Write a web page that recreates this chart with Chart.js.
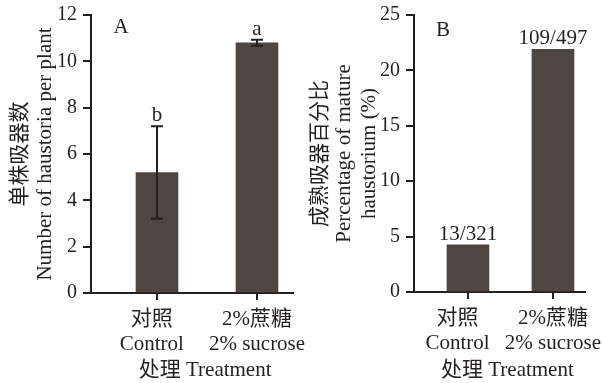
<!DOCTYPE html>
<html>
<head>
<meta charset="utf-8">
<script src="https://cdn.jsdelivr.net/npm/chart.js@4.4.0/dist/chart.umd.min.js"></script>
<style>
body { margin: 0; background: #fff; }
#wrap { position: relative; width: 603px; height: 383px; }
canvas { position: absolute; top: 0; }
#chartA { left: 0; }
#chartB { left: 300px; }
</style>
</head>
<body>
<div id="wrap">
  <canvas id="chartA" width="330" height="383"></canvas>
  <canvas id="chartB" width="303" height="383"></canvas>
</div>
<script>
const categories = [["对照", "Control"], ["2%蔗糖", "2% sucrose"]];
const haustoria = [5.2, 10.8];
const haustoriaErr = [2.0, 0.13];
const haustoriaLetters = ["b", "a"];
const matureRate = [4.25, 21.9];
const matureCounts = ["13/321", "109/497"];

const ink = '#231f20';
const barColor = '#4f4641';
const fam = "'Liberation Serif', 'Noto Sans CJK SC', serif";

// error bars + labels above bars + panel letter
function annotations(values, errors, labels, panel) {
  return {
    id: 'annotations',
    afterDatasetsDraw(chart) {
      const ctx = chart.ctx;
      const y = chart.scales.y;
      const bars = chart.getDatasetMeta(0).data;
      ctx.save();
      ctx.strokeStyle = ink;
      ctx.fillStyle = ink;
      ctx.lineWidth = 2;
      ctx.font = '21px ' + fam;
      ctx.textAlign = 'center';
      ctx.textBaseline = 'alphabetic';
      bars.forEach((bar, i) => {
        let top = y.getPixelForValue(values[i]);
        if (errors) {
          const hi = y.getPixelForValue(values[i] + errors[i]);
          const lo = y.getPixelForValue(values[i] - errors[i]);
          ctx.beginPath();
          ctx.moveTo(bar.x, hi); ctx.lineTo(bar.x, lo);
          ctx.moveTo(bar.x - 6, hi); ctx.lineTo(bar.x + 6, hi);
          ctx.moveTo(bar.x - 6, lo); ctx.lineTo(bar.x + 6, lo);
          ctx.stroke();
          top = hi;
        }
        ctx.fillText(labels[i], bar.x, top - 5);
      });
      ctx.fillText(panel.text, panel.x, panel.y);
      ctx.restore();
    }
  };
}

function makeChart(id, cfg) {
  return new Chart(document.getElementById(id), {
    type: 'bar',
    data: {
      datasets: [{
        data: cfg.values.map((v, i) => ({ x: i + 1, y: v })),
        backgroundColor: barColor,
        barThickness: 42
      }]
    },
    options: {
      responsive: false,
      animation: false,
      layout: { padding: { top: 15, right: cfg.padRight, bottom: 0, left: 0 } },
      plugins: { legend: { display: false }, tooltip: { enabled: false } },
      scales: {
        x: {
          type: 'linear',
          min: cfg.xMin,
          max: cfg.xMax,
          offset: false,
          grid: { drawOnChartArea: false, tickLength: 7, lineWidth: 2, color: ink, offset: false },
          border: { color: ink, width: 2 },
          afterBuildTicks: s => { s.ticks = categories.map((c, i) => ({ value: i + 1 })); },
          afterFit: s => { s.height = cfg.xHeight; s.paddingLeft = 0; s.paddingRight = 0; },
          ticks: {
            padding: 7,
            color: ink,
            autoSkip: false,
            maxRotation: 0,
            font: { family: fam, size: 21, lineHeight: 25 / 21 },
            callback: v => {
              const i = Math.round(v) - 1;
              const pad = ' '.repeat(cfg.labelPad[i]);
              return categories[i].map(t => t + pad);
            }
          },
          title: {
            display: true,
            text: cfg.xTitle,
            color: ink,
            font: { family: fam, size: 21, lineHeight: 25 / 21 },
            padding: { top: 0, bottom: 0 }
          }
        },
        y: {
          min: 0,
          max: cfg.yMax,
          grid: { drawOnChartArea: false, tickLength: 8, lineWidth: 2, color: ink },
          border: { color: ink, width: 2 },
          afterFit: s => { s.width = cfg.yWidth; s.paddingTop = 0; s.paddingBottom = 0; },
          ticks: { stepSize: cfg.step, padding: 6, color: ink, font: { family: fam, size: 20 } },
          title: {
            display: true,
            text: cfg.yTitle,
            color: ink,
            font: { family: fam, size: 21, lineHeight: cfg.yLine / 21 },
            padding: { top: 8, bottom: 0 }
          }
        }
      }
    },
    plugins: [annotations(cfg.values, cfg.errors, cfg.labels, cfg.panel)]
  });
}

makeChart('chartA', {
  values: haustoria,
  errors: haustoriaErr,
  labels: haustoriaLetters,
  panel: { text: 'A', x: 121, y: 33 },
  padRight: 37,
  xMin: 0.34, xMax: 2.36,
  xHeight: 90,
  yMax: 12, step: 2,
  yWidth: 91,
  yLine: 25,
  labelPad: [2, 0],
  xTitle: '     处理 Treatment',
  yTitle: ['单株吸器数', 'Number of haustoria per plant']
});

makeChart('chartB', {
  values: matureRate,
  errors: null,
  labels: matureCounts,
  panel: { text: 'B', x: 143, y: 36 },
  padRight: 18,
  xMin: 0.365, xMax: 2.377,
  xHeight: 91,
  yMax: 25, step: 5,
  yWidth: 114,
  yLine: 24.5,
  labelPad: [4, 0],
  xTitle: '   处理 Treatment',
  yTitle: ['成熟吸器百分比', 'Percentage of mature', 'haustorium (%)']
});
</script>
</body>
</html>
